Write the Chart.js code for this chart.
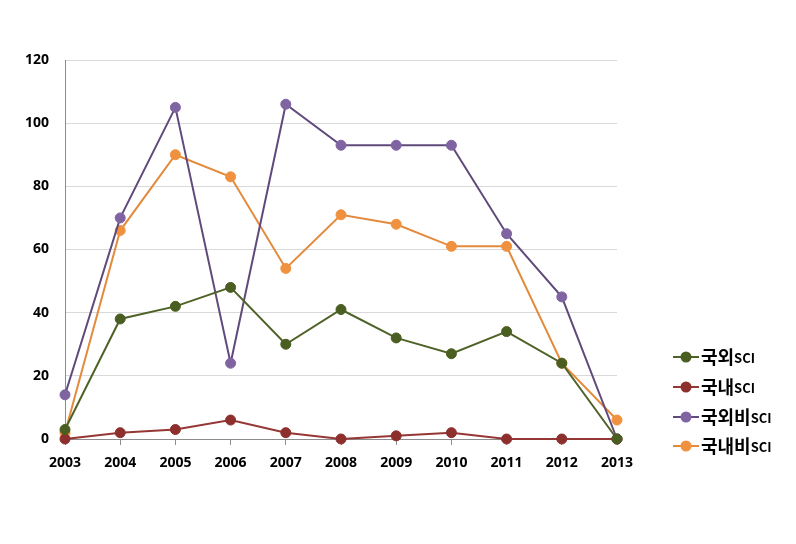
<!DOCTYPE html>
<html><head><meta charset="utf-8">
<script src="https://cdn.jsdelivr.net/npm/chart.js@4/dist/chart.umd.min.js"></script>
<style>html,body{margin:0;padding:0;background:#fff}#wrap{width:796px;height:544px}</style>
</head><body><div id="wrap"><canvas id="c" width="796" height="544"></canvas></div>
<script>
const years = ['2003','2004','2005','2006','2007','2008','2009','2010','2011','2012','2013'];
const seriesNames = ['국외SCI','국내SCI','국외비SCI','국내비SCI'];
const foreignSci = [3,38,42,48,30,41,32,27,34,24,0];
const domesticSci = [0,2,3,6,2,0,1,2,0,0,0];
const foreignNonSci = [14,70,105,24,106,93,93,93,65,45,0];
const domesticNonSci = [2,66,90,83,54,71,68,61,61,24,6];
const yTicks = [0,20,40,60,80,100,120];

const lineColors = ['#4f6228','#953735','#604a7b','#e38a3c'];
const pointColors = ['#4a5e22','#8c2f2d','#8064a2','#f0913f'];
const values = [foreignSci, domesticSci, foreignNonSci, domesticNonSci];

const datasets = values.map((v,i)=>({
  label: seriesNames[i], data: v,
  borderColor: lineColors[i], borderWidth: 2,
  pointBackgroundColor: pointColors[i], pointBorderColor: pointColors[i],
  pointRadius: 5, pointHoverRadius: 5, pointBorderWidth: 1, tension: 0, clip: false
}));

const legendPlugin = {
  id: 'customLegend',
  afterDraw(chart){
    const ctx = chart.ctx;
    const ys = [357, 387, 417, 446];
    chart.data.datasets.forEach((ds,i)=>{
      const y = ys[i];
      ctx.save();
      ctx.strokeStyle = ds.borderColor; ctx.lineWidth = 2;
      ctx.beginPath(); ctx.moveTo(673,y); ctx.lineTo(699,y); ctx.stroke();
      ctx.fillStyle = ds.pointBackgroundColor;
      ctx.beginPath(); ctx.arc(686,y,5.5,0,Math.PI*2); ctx.fill();
      const m = ds.label.match(/^(.*?)(SCI)$/);
      ctx.fillStyle = '#000'; ctx.textBaseline = 'middle';
      ctx.font = 'bold 18px "Noto Sans CJK KR", sans-serif';
      ctx.fillText(m[1], 701, y);
      const w = ctx.measureText(m[1]).width;
      ctx.font = 'bold 13px "Noto Sans CJK KR", sans-serif';
      ctx.fillText(m[2], 701 + w, y + 1);
      ctx.restore();
    });
  }
};

new Chart(document.getElementById('c'), {
  type: 'line',
  data: { labels: years, datasets },
  options: {
    responsive: false, animation: false,
    layout: { padding: { top: 60, right: 179, bottom: 0, left: 0 } },
    plugins: { legend: { display: false }, tooltip: { enabled: false } },
    scales: {
      x: {
        offset: false,
        grid: { display: true, drawOnChartArea: false, drawTicks: true, tickLength: 6, color: '#8c8c8c' },
        border: { color: '#8c8c8c', width: 1 },
        ticks: { color: '#000', font: { family: '"Noto Sans"', weight: 'bold', size: 14 }, padding: 10, maxRotation: 0 },
        afterFit(s){ s.height = 105; }
      },
      y: {
        min: 0, max: 120,
        afterBuildTicks(s){ s.ticks = yTicks.map(v=>({value:v})); },
        grid: { color: '#d9d9d9', drawTicks: false },
        border: { color: '#8c8c8c', width: 1 },
        ticks: { color: '#000', font: { family: '"Noto Sans"', weight: 'bold', size: 14 }, padding: 16 },
        afterFit(s){ s.width = 65; }
      }
    }
  },
  plugins: [legendPlugin]
});
</script></body></html>
